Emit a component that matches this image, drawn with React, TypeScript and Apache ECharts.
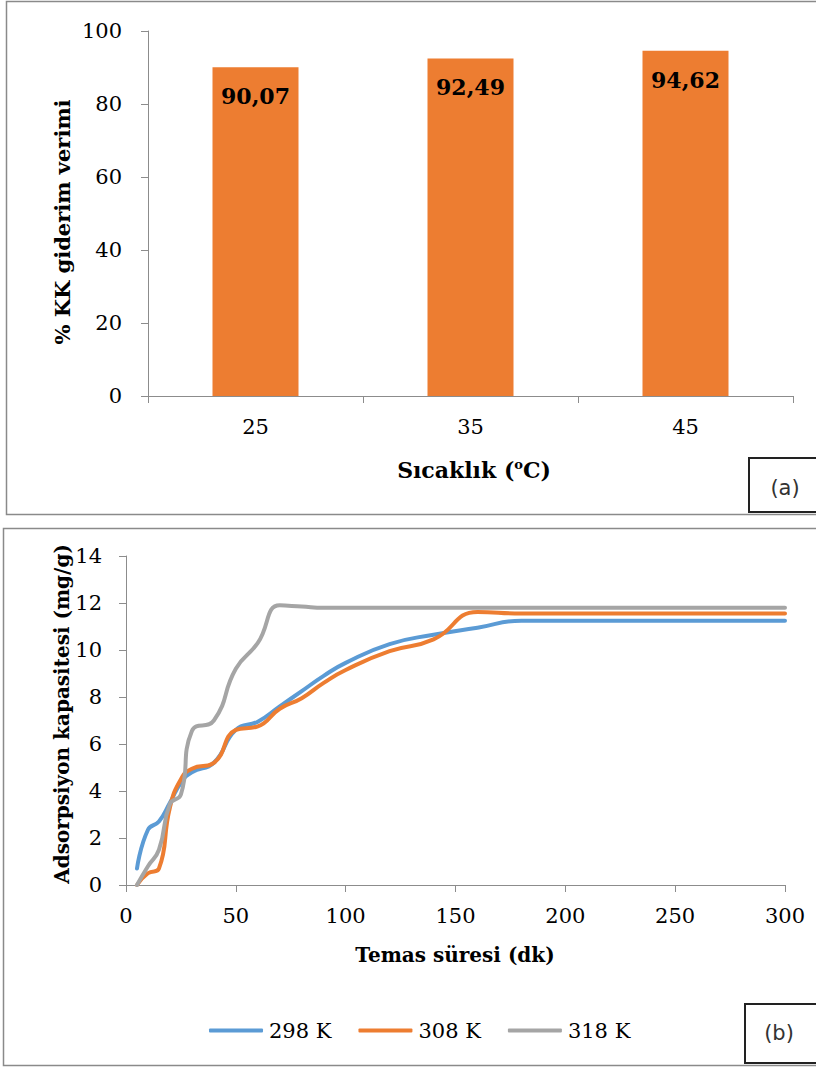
import React, { useEffect, useRef } from "react";
import * as echarts from "echarts";

// Panel (a): removal efficiency by temperature
const tempCategories = ["25", "35", "45"];
const removalEfficiency = [90.07, 92.49, 94.62];

// Panel (b): adsorption capacity vs contact time
const contactTime = [5, 10, 15, 20, 25, 30, 40, 50, 60, 70, 80, 90, 100, 120, 140, 160, 180, 200, 300];
const q298 = [0.7, 2.35, 2.7, 3.5, 4.35, 4.8, 5.2, 6.6, 6.95, 7.6, 8.25, 8.9, 9.45, 10.25, 10.65, 10.95, 11.25, 11.25, 11.25];
const q308 = [0, 0.5, 0.7, 3.3, 4.5, 4.95, 5.2, 6.6, 6.75, 7.5, 7.95, 8.6, 9.15, 9.95, 10.45, 11.62, 11.55, 11.55, 11.55];
const q318 = [0, 0.8, 1.5, 3.45, 3.85, 6.55, 7.0, 9.2, 10.3, 11.9, 11.85, 11.8, 11.8, 11.8, 11.8, 11.8, 11.8, 11.8, 11.8];
const seriesNames = ["298 K", "308 K", "318 K"];
const seriesColors = ["#5B9BD5", "#ED7D31", "#A5A5A5"];

const SERIF = '"DejaVu Serif", serif';
const AXIS_GRAY = "#8c8c8c";

const pair = (ys: number[]) => contactTime.map((t, i) => [t, ys[i]]);

export default function App() {
  const ref = useRef<HTMLDivElement>(null);

  useEffect(() => {
    if (!ref.current) return;
    const chart = echarts.init(ref.current, undefined, { renderer: "svg" });

    const axisLine = { show: true, lineStyle: { color: AXIS_GRAY, width: 1 } };
    const axisTick = { show: true, length: 7, lineStyle: { color: AXIS_GRAY, width: 1 } };
    const tickLabel = { color: "#000", fontFamily: "DejaVu Serif", fontSize: 21 };

    chart.setOption({
      animation: false,
      backgroundColor: "#fff",
      grid: [
        { left: 148, top: 31, width: 645, height: 365 },
        { left: 126, top: 556, width: 659, height: 329 },
      ],
      xAxis: [
        {
          type: "category",
          gridIndex: 0,
          data: tempCategories,
          axisLine,
          axisTick: { ...axisTick, alignWithLabel: false },
          axisLabel: { ...tickLabel, margin: 20 },
          splitLine: { show: false },
        },
        {
          type: "value",
          gridIndex: 1,
          min: 0,
          max: 300,
          interval: 50,
          axisLine,
          axisTick,
          axisLabel: { ...tickLabel, margin: 20 },
          splitLine: { show: false },
        },
      ],
      yAxis: [
        {
          type: "value",
          gridIndex: 0,
          min: 0,
          max: 100,
          interval: 20,
          axisLine,
          axisTick,
          axisLabel: { ...tickLabel, margin: 26 },
          splitLine: { show: false },
        },
        {
          type: "value",
          gridIndex: 1,
          min: 0,
          max: 14,
          interval: 2,
          axisLine,
          axisTick,
          axisLabel: { ...tickLabel, margin: 24 },
          splitLine: { show: false },
        },
      ],
      legend: {
        data: seriesNames,
        left: 204,
        top: 1015,
        icon: "roundRect",
        itemWidth: 54,
        itemHeight: 4,
        itemGap: 27,
        textStyle: { color: "#000", fontFamily: "DejaVu Serif", fontSize: 21, padding: [0, 0, 0, 1] },
      },
      series: [
        {
          type: "bar",
          xAxisIndex: 0,
          yAxisIndex: 0,
          data: removalEfficiency,
          barWidth: "40%",
          itemStyle: { color: "#ED7D31" },
          label: {
            show: true,
            position: "insideTop",
            distance: 18,
            color: "#000",
            fontFamily: "DejaVu Serif",
            fontWeight: "bold",
            fontSize: 22,
            formatter: (p: any) => p.value.toFixed(2).replace(".", ","),
          },
        },
        ...[q298, q308, q318].map((ys, i) => ({
          type: "line",
          name: seriesNames[i],
          xAxisIndex: 1,
          yAxisIndex: 1,
          data: pair(ys),
          smooth: 0.5,
          symbol: "none",
          lineStyle: { width: 4, color: seriesColors[i], cap: "round" },
          itemStyle: { color: seriesColors[i] },
        })),
      ],
      graphic: [
        // panel frames
        {
          type: "rect",
          shape: { x: 6.5, y: 1.5, width: 820, height: 513 },
          style: { fill: "none", stroke: "#8a8a8a", lineWidth: 1.5 },
          z: 0,
        },
        {
          type: "rect",
          shape: { x: 3.5, y: 528.5, width: 820, height: 537 },
          style: { fill: "none", stroke: "#8a8a8a", lineWidth: 1.5 },
          z: 0,
        },
        // axis titles, panel (a)
        {
          type: "text",
          x: 62,
          y: 222,
          rotation: Math.PI / 2,
          style: {
            text: "% KK giderim verimi",
            font: `bold 21px ${SERIF}`,
            fill: "#000",
            align: "center",
            verticalAlign: "middle",
          },
        },
        {
          type: "text",
          x: 474,
          y: 470,
          style: {
            text: "Sıcaklık ({sup|o}C)",
            font: `bold 22px ${SERIF}`,
            fill: "#000",
            align: "center",
            verticalAlign: "middle",
            rich: {
              sup: { font: `bold 13px ${SERIF}`, fill: "#000", verticalAlign: "top", lineHeight: 25 },
            },
          },
        },
        // axis titles, panel (b)
        {
          type: "text",
          x: 62,
          y: 714,
          rotation: Math.PI / 2,
          style: {
            text: "Adsorpsiyon kapasitesi (mg/g)",
            font: `bold 20px ${SERIF}`,
            fill: "#000",
            align: "center",
            verticalAlign: "middle",
          },
        },
        {
          type: "text",
          x: 455,
          y: 955,
          style: {
            text: "Temas süresi (dk)",
            font: `bold 20px ${SERIF}`,
            fill: "#000",
            align: "center",
            verticalAlign: "middle",
          },
        },
        // panel tags
        {
          type: "rect",
          shape: { x: 749, y: 458, width: 80, height: 54 },
          style: { fill: "#fff", stroke: "#222", lineWidth: 2 },
        },
        {
          type: "text",
          x: 785,
          y: 488,
          style: {
            text: "(a)",
            font: `21px "DejaVu Sans", sans-serif`,
            fill: "#333",
            align: "center",
            verticalAlign: "middle",
          },
        },
        {
          type: "rect",
          shape: { x: 745, y: 1004, width: 80, height: 59 },
          style: { fill: "#fff", stroke: "#222", lineWidth: 2 },
        },
        {
          type: "text",
          x: 779,
          y: 1033,
          style: {
            text: "(b)",
            font: `21px "DejaVu Sans", sans-serif`,
            fill: "#333",
            align: "center",
            verticalAlign: "middle",
          },
        },
      ],
    });

    return () => chart.dispose();
  }, []);

  return (
    <div
      ref={ref}
      style={{ position: "absolute", left: 0, top: 0, width: 816, height: 1068, background: "#fff" }}
    />
  );
}
